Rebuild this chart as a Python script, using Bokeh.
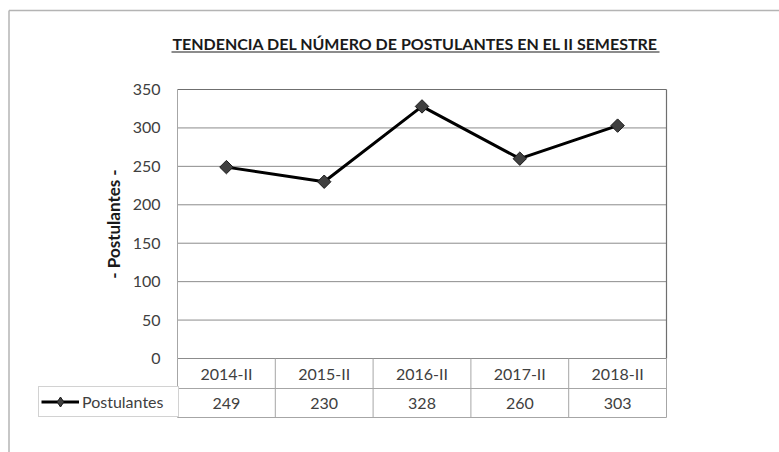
import math
from bokeh.plotting import figure
from bokeh.models import Range1d, FixedTicker, Legend, LegendItem
from bokeh.core.properties import value
from bokeh.embed import file_html
from bokeh.resources import INLINE

# ---- data ----
title_text = "TENDENCIA DEL NÚMERO DE POSTULANTES EN EL II SEMESTRE"
categories = ["2014-II", "2015-II", "2016-II", "2017-II", "2018-II"]
postulantes = [249, 230, 328, 260, 303]
y_ticks = [0, 50, 100, 150, 200, 250, 300, 350]
y_label = "- Postulantes -"
series_name = "Postulantes"

# ---- layout constants (page pixels) ----
W, H = 779, 452
PAGE_X, PAGE_Y = 0, 0
BORDER_X, BORDER_Y = 8.5, 10
PLOT_L, PLOT_R = 177, 666          # plot area left / right
PLOT_T, PLOT_B = 89, 358           # plot area top / bottom (value 0)
ROW1_B, ROW2_B = 388, 417          # table row bottoms
LEG_L = 38                         # legend cell left
TITLE_CX, TITLE_CY = 415, 43
UL_L, UL_R, UL_Y = 171, 659, 51.5

FONT = "Lato"
TXT = "#404040"
TABLE = "#a6a6a6"
GRID = "#8c8c8c"
DARK = "#6f6f6f"

n = len(categories)
y_max = y_ticks[-1]
cell = (PLOT_R - PLOT_L) / n
unit_px = (PLOT_B - PLOT_T) / y_max


def fx(px):
    return (px - PLOT_L) / cell


def fy(py):
    return (PLOT_B - py) / unit_px


xs = [i + 0.5 for i in range(n)]
bounds = list(range(n + 1))

p = figure(width=W, height=H,
           x_range=Range1d(fx(PAGE_X), fx(PAGE_X + W)),
           y_range=Range1d(fy(PAGE_Y + H), fy(PAGE_Y)),
           output_backend="svg", toolbar_location=None, x_axis_location=None,
           min_border=0)
p.min_border_left = p.min_border_right = p.min_border_top = p.min_border_bottom = 0
p.background_fill_color = "white"
p.border_fill_color = "white"
p.outline_line_color = None
p.xgrid.visible = False
p.ygrid.visible = False

# outer chart border (top and left)
p.segment(x0=[fx(BORDER_X), fx(BORDER_X)], y0=[fy(BORDER_Y), fy(BORDER_Y)],
          x1=[fx(BORDER_X), fx(PAGE_X + W)], y1=[fy(PAGE_Y + H), fy(BORDER_Y)],
          line_color="#b4b4b4", line_width=1.5)

# title with underline
p.text(x=[fx(TITLE_CX)], y=[fy(TITLE_CY)], text=[title_text], text_font=value(FONT),
       text_font_style="bold", text_font_size="16px", text_color="#1a1a1a",
       text_align="center", text_baseline="middle")
p.segment(x0=[fx(UL_L)], y0=[fy(UL_Y)], x1=[fx(UL_R)], y1=[fy(UL_Y)],
          line_color="#1a1a1a", line_width=1.2)

# horizontal gridlines
grid_ys = y_ticks[:-1]
p.segment(x0=[0] * len(grid_ys), y0=grid_ys, x1=[n] * len(grid_ys), y1=grid_ys,
          line_color=GRID, line_width=1)
# plot area top and right edges
p.segment(x0=[0, n], y0=[y_max, 0], x1=[n, n], y1=[y_max, y_max],
          line_color=DARK, line_width=1.2)

# data table lines
r1, r2 = fy(ROW1_B), fy(ROW2_B)
p.segment(x0=bounds, y0=[0] * len(bounds), x1=bounds, y1=[r2] * len(bounds),
          line_color=TABLE, line_width=1)
p.segment(x0=[0, 0], y0=[r1, r2], x1=[n, n], y1=[r1, r2], line_color=TABLE, line_width=1)

# table texts
p.text(x=xs, y=[(0 + r1) / 2] * n, text=categories, text_font=value(FONT),
       text_font_size="16px", text_color=TXT, text_align="center", text_baseline="middle")
p.text(x=xs, y=[(r1 + r2) / 2] * n, text=[str(v) for v in postulantes], text_font=value(FONT),
       text_font_size="16px", text_color=TXT, text_align="center", text_baseline="middle")

# series
line_r = p.line(xs, postulantes, line_color="black", line_width=3)
# legend sample marker (legend glyphs are drawn unrotated, so a diamond is used there);
# drawn tiny underneath the plotted markers
leg_marker = p.scatter(xs, postulantes, marker="diamond", size=1, fill_color="#404040",
                       line_color="#1a1a1a", line_width=1)
pts_r = p.scatter(xs, postulantes, marker="square", angle=math.pi / 4, size=9.5,
                  fill_color="#404040", line_color="#1a1a1a", line_width=1)

legend = Legend(items=[LegendItem(label=series_name, renderers=[line_r, leg_marker])],
                location=(LEG_L - PAGE_X, PAGE_Y + H - ROW2_B), orientation="vertical",
                border_line_color=TABLE, border_line_width=1,
                background_fill_color="white", background_fill_alpha=1,
                padding=2, margin=0, spacing=0,
                glyph_width=38, glyph_height=25, label_height=25, label_width=94,
                label_standoff=3, label_text_font=FONT, label_text_font_size="16px",
                label_text_color=TXT)
p.add_layout(legend)

# y axis fixed at the plot-area left edge
ya = p.yaxis[0]
ya.fixed_location = 0
ya.bounds = (0, y_max)
ya.ticker = FixedTicker(ticks=y_ticks)
ya.axis_line_color = TABLE
ya.major_tick_line_color = None
ya.minor_tick_line_color = None
ya.major_tick_out = 0
ya.major_tick_in = 0
ya.major_label_standoff = 17
ya.major_label_text_font = FONT
ya.major_label_text_font_size = "16px"
ya.major_label_text_color = TXT
ya.axis_label = y_label
ya.axis_label_text_font = FONT
ya.axis_label_text_font_style = "bold"
ya.axis_label_text_font_size = "17px"
ya.axis_label_text_color = "#1a1a1a"
ya.axis_label_standoff = 6

open("out.html", "w").write(file_html(p, INLINE))
